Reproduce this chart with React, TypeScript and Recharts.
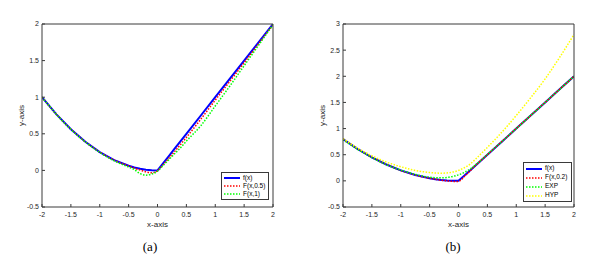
import React from "react";
import {
  LineChart,
  Line,
  XAxis,
  YAxis,
  Legend,
} from "recharts";

// sample positions shared by every curve
const xs = [
  -2, -1.75, -1.5, -1.25, -1, -0.75, -0.5, -0.4, -0.3, -0.2, -0.1, 0, 0.1, 0.2,
  0.3, 0.4, 0.5, 0.75, 1, 1.25, 1.5, 1.75, 2,
];

// panel (a)
const fA = [
  1, 0.766, 0.563, 0.391, 0.25, 0.141, 0.063, 0.04, 0.023, 0.01, 0.003, 0, 0.1,
  0.2, 0.3, 0.4, 0.5, 0.75, 1, 1.25, 1.5, 1.75, 2,
];
const fHalfA = [
  1, 0.766, 0.563, 0.391, 0.25, 0.14, 0.06, 0.03, 0.005, -0.02, -0.033, -0.005,
  0.08, 0.17, 0.26, 0.355, 0.45, 0.7, 0.96, 1.215, 1.47, 1.73, 1.99,
];
const fOneA = [
  1, 0.765, 0.56, 0.39, 0.245, 0.13, 0.045, 0.01, -0.045, -0.065, -0.05, -0.01,
  0.07, 0.15, 0.23, 0.31, 0.4, 0.61, 0.88, 1.15, 1.43, 1.71, 1.99,
];

// panel (b)
const fB = [
  0.8, 0.613, 0.45, 0.313, 0.2, 0.113, 0.05, 0.032, 0.018, 0.008, 0.002, 0, 0.1,
  0.2, 0.3, 0.4, 0.5, 0.75, 1, 1.25, 1.5, 1.75, 2,
];
const fSmallB = [
  0.8, 0.613, 0.45, 0.313, 0.2, 0.113, 0.05, 0.03, 0.012, 0.0, -0.01, -0.01, 0.08,
  0.19, 0.3, 0.4, 0.5, 0.75, 1, 1.25, 1.5, 1.75, 2,
];
const expB = [
  0.79, 0.605, 0.445, 0.31, 0.205, 0.125, 0.07, 0.06, 0.058, 0.065, 0.085, 0.115,
  0.16, 0.225, 0.31, 0.405, 0.505, 0.75, 1, 1.25, 1.5, 1.75, 2,
];
const hypB = [
  0.81, 0.63, 0.48, 0.36, 0.27, 0.2, 0.16, 0.15, 0.147, 0.152, 0.168, 0.2, 0.25,
  0.32, 0.42, 0.53, 0.64, 0.93, 1.25, 1.59, 1.95, 2.36, 2.8,
];

const xTicks = [-2, -1.5, -1, -0.5, 0, 0.5, 1, 1.5, 2];
const yTicksA = [-0.5, 0, 0.5, 1, 1.5, 2];
const yTicksB = [-0.5, 0, 0.5, 1, 1.5, 2, 2.5, 3];

const dataA = xs.map((x, i) => ({ x, f: fA[i], f05: fHalfA[i], f1: fOneA[i] }));
const dataB = xs.map((x, i) => ({
  x,
  f: fB[i],
  f02: fSmallB[i],
  exp: expB[i],
  hyp: hypB[i],
}));

type Series = {
  key: string;
  name: string;
  color: string;
  width: number;
  dash?: string;
  curve: "linear" | "monotone";
};

const seriesA: Series[] = [
  { key: "f", name: "f(x)", color: "#0000ff", width: 2, curve: "linear" },
  { key: "f05", name: "F(x,0.5)", color: "#ff0000", width: 1.5, dash: "1.5 1.5", curve: "monotone" },
  { key: "f1", name: "F(x,1)", color: "#00ff00", width: 1.5, dash: "1.5 1.5", curve: "monotone" },
];
const seriesB: Series[] = [
  { key: "f", name: "f(x)", color: "#0000ff", width: 2, curve: "linear" },
  { key: "f02", name: "F(x,0.2)", color: "#ff0000", width: 1.5, dash: "1.5 1.5", curve: "monotone" },
  { key: "exp", name: "EXP", color: "#00ff00", width: 1.5, dash: "1.5 1.5", curve: "monotone" },
  { key: "hyp", name: "HYP", color: "#ffff00", width: 1.5, dash: "1.5 1.5", curve: "monotone" },
];

const FONT = "'Liberation Sans', Arial, sans-serif";
const AXIS = "#3a3a3a";
const tickStyle = { fontSize: 7, fill: "#262626", fontFamily: FONT };

const BoxLegend = ({ series, rowH }: { series: Series[]; rowH: number }) => (
  <div
    style={{
      border: `1px solid ${AXIS}`,
      background: "#fff",
      padding: "1px 2px",
      fontFamily: FONT,
      fontSize: 6.5,
      color: "#000",
      boxSizing: "border-box",
    }}
  >
    {series.map((s) => (
      <div key={s.key} style={{ display: "flex", alignItems: "center", height: rowH }}>
        <svg width={16} height={4} style={{ display: "block" }}>
          <line
            x1={0}
            y1={2}
            x2={16}
            y2={2}
            stroke={s.color}
            strokeWidth={s.width}
            strokeDasharray={s.dash}
          />
        </svg>
        <span style={{ marginLeft: 3, lineHeight: 1 }}>{s.name}</span>
      </div>
    ))}
  </div>
);

interface PanelProps {
  data: any[];
  series: Series[];
  yMax: number;
  yTicks: number[];
  margin: { top: number; right: number; bottom: number; left: number };
  legendBox: { left: number; top: number; width: number; rowH: number };
}

const Panel = ({ data, series, yMax, yTicks, margin, legendBox }: PanelProps) => (
  <LineChart width={300} height={269} data={data} margin={margin}>
    <XAxis
      xAxisId="b"
      dataKey="x"
      type="number"
      domain={[-2, 2]}
      ticks={xTicks}
      allowDataOverflow
      height={1}
      tickSize={-3}
      tickMargin={8}
      tick={tickStyle}
      stroke={AXIS}
      label={{ value: "x-axis", position: "bottom", offset: 13, fill: "#262626", fontSize: 8, fontFamily: FONT }}
    />
    <XAxis
      xAxisId="t"
      orientation="top"
      dataKey="x"
      type="number"
      domain={[-2, 2]}
      ticks={xTicks}
      allowDataOverflow
      height={1}
      tickSize={-3}
      tick={false}
      stroke={AXIS}
    />
    <YAxis
      yAxisId="l"
      type="number"
      domain={[-0.5, yMax]}
      ticks={yTicks}
      allowDataOverflow
      width={1}
      tickSize={-3}
      tickMargin={6}
      tick={tickStyle}
      stroke={AXIS}
      label={{
        value: "y-axis",
        angle: -90,
        position: "left",
        offset: 20,
        fill: "#262626",
        fontSize: 8,
        fontFamily: FONT,
        style: { textAnchor: "middle" },
      }}
    />
    <YAxis
      yAxisId="r"
      orientation="right"
      type="number"
      domain={[-0.5, yMax]}
      ticks={yTicks}
      allowDataOverflow
      width={1}
      tickSize={-3}
      tick={false}
      stroke={AXIS}
    />
    <Legend
      layout="vertical"
      align="center"
      verticalAlign="middle"
      wrapperStyle={{
        left: legendBox.left,
        top: legendBox.top,
        bottom: "auto",
        width: legendBox.width,
        height: "auto",
      }}
      content={() => <BoxLegend series={series} rowH={legendBox.rowH} />}
    />
    {series.map((s) => (
      <Line
        key={s.key}
        xAxisId="b"
        yAxisId="l"
        type={s.curve}
        dataKey={s.key}
        name={s.name}
        stroke={s.color}
        strokeWidth={s.width}
        strokeDasharray={s.dash}
        dot={false}
        isAnimationActive={false}
      />
    ))}
  </LineChart>
);

const captionStyle: React.CSSProperties = {
  position: "absolute",
  top: 239,
  width: 40,
  textAlign: "center",
  fontFamily: "'Liberation Serif', 'DejaVu Serif', serif",
  fontSize: 13,
  color: "#000",
};

export default function App() {
  return (
    <div
      style={{
        position: "absolute",
        left: 0,
        top: 0,
        width: 603,
        height: 269,
        background: "#fff",
        overflow: "hidden",
      }}
    >
      <div style={{ position: "absolute", left: 0, top: 0 }}>
        <Panel
          data={dataA}
          series={seriesA}
          yMax={2}
          yTicks={yTicksA}
          margin={{ top: 23, right: 26, bottom: 61, left: 41 }}
          legendBox={{ left: 221, top: 172, width: 48, rowH: 8 }}
        />
      </div>
      <div style={{ position: "absolute", left: 300, top: 0 }}>
        <Panel
          data={dataB}
          series={seriesB}
          yMax={3}
          yTicks={yTicksB}
          margin={{ top: 23, right: 25, bottom: 61, left: 42 }}
          legendBox={{ left: 223, top: 162, width: 49, rowH: 9 }}
        />
      </div>
      <div style={{ ...captionStyle, left: 130 }}>(a)</div>
      <div style={{ ...captionStyle, left: 433 }}>(b)</div>
    </div>
  );
}
